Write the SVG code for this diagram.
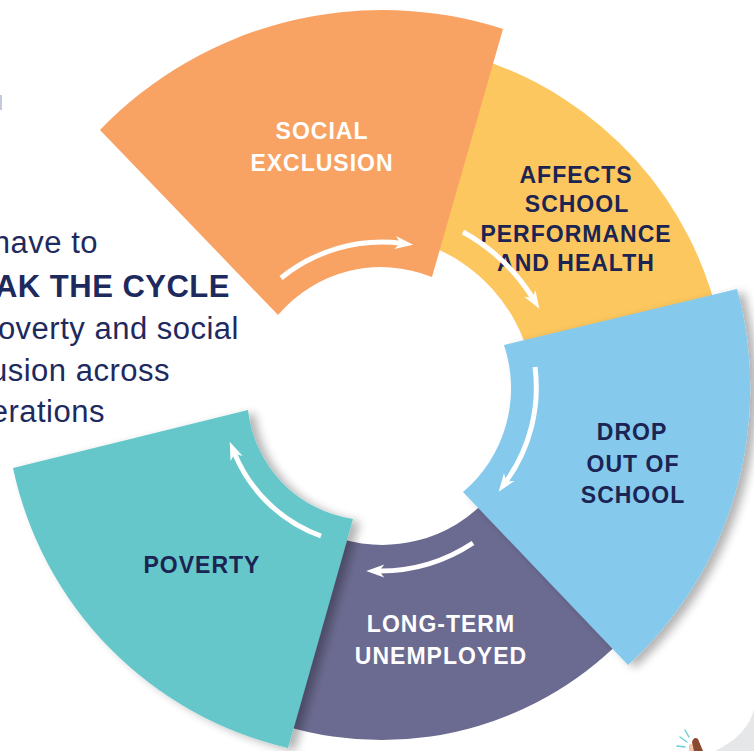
<svg xmlns="http://www.w3.org/2000/svg" width="754" height="751" viewBox="0 0 754 751">
<defs>
<style>
.lbl{font-family:"Liberation Sans",Arial,sans-serif;font-weight:bold;font-size:23px;letter-spacing:1px;text-anchor:middle}
.w{fill:#ffffff}
.d{fill:#1B2452}
.side{font-family:"Liberation Sans",Arial,sans-serif;font-size:31px;letter-spacing:0.5px;fill:#1E2A5E;text-anchor:end}
.arr{fill:none;stroke:#ffffff;stroke-width:5;marker-end:url(#ah)}
</style>
<marker id="ah" markerUnits="userSpaceOnUse" orient="auto" markerWidth="40" markerHeight="40" refX="0" refY="0" viewBox="-20 -20 40 40" overflow="visible">
<path d="M12,0 L-6,-6.5 L-1,0 L-6,6.5 Z" fill="#ffffff"/>
</marker>
<filter id="sh" x="-20%" y="-20%" width="140%" height="140%">
<feGaussianBlur in="SourceAlpha" stdDeviation="5"/>
<feOffset dx="7" dy="3" result="o"/>
<feComponentTransfer><feFuncA type="linear" slope="0.3"/></feComponentTransfer>
<feMerge><feMergeNode/><feMergeNode in="SourceGraphic"/></feMerge>
</filter>
</defs>
<rect width="754" height="751" fill="#ffffff"/>
<rect x="0" y="95" width="2" height="15" fill="#c5c9de"/>
<g id="intro-text">
<text class="side" x="98" y="253">have to</text>
<text class="side" x="230" y="297" style="font-weight:bold">AK THE CYCLE</text>
<text class="side" x="239" y="339">overty and social</text>
<text class="side" x="170" y="381">usion across</text>
<text class="side" x="105" y="422">erations</text>
</g>
<g id="node-affects-school">
<path d="M480,59 A358,358 0 0 1 720,325 L530,360 A165,165 0 0 0 425,244 Z" fill="#FCC75E"/>
</g>
<g id="node-long-term-unemployed">
<path d="M285,726 A338,338 0 0 0 640,620 L490,496 A143,143 0 0 1 330,535 Z" fill="#6B6A90"/>
</g>
<g id="node-social-exclusion">
<path d="M100,130 A392,392 0 0 1 503,29 L432,277 A135,135 0 0 0 278,315 Z" fill="#F8A263"/>
</g>
<g id="node-drop-out">
<path d="M504,345 L737,289 A375,375 0 0 1 628,665 L463,492 A136,136 0 0 0 504,345 Z" fill="#85C9EC" filter="url(#sh)"/>
</g>
<g id="node-poverty">
<path d="M13,468 L248,410 A124,124 0 0 0 353,519 L288,748 A365,365 0 0 1 13,468 Z" fill="#66C7CA" filter="url(#sh)"/>
</g>
<g id="labels">
<text class="lbl w" x="322" y="139">SOCIAL</text>
<text class="lbl w" x="322" y="171">EXCLUSION</text>
<text class="lbl d" x="576" y="183">AFFECTS</text>
<text class="lbl d" x="577" y="212">SCHOOL</text>
<text class="lbl d" x="576" y="242">PERFORMANCE</text>
<text class="lbl d" x="576" y="271">AND HEALTH</text>
<text class="lbl d" x="632" y="440">DROP</text>
<text class="lbl d" x="633" y="472">OUT OF</text>
<text class="lbl d" x="633" y="503">SCHOOL</text>
<text class="lbl w" x="441" y="632">LONG-TERM</text>
<text class="lbl w" x="441" y="664">UNEMPLOYED</text>
<text class="lbl d" x="202" y="573">POVERTY</text>
</g>
<g id="connectors">
<path class="arr" d="M281,278 A160,160 0 0 1 401.2,243.2"/>
<path class="arr" d="M463,232 A192,192 0 0 1 533,298.5"/>
<path class="arr" d="M535,367 A161,161 0 0 1 505.7,482"/>
<path class="arr" d="M473,543 A169,169 0 0 1 378.2,571"/>
<path class="arr" d="M321,536 A148,148 0 0 1 234.3,452.9"/>
</g>
<g id="corner-illustration">
<path d="M754,709 Q748,735 715,751 L754,751 Z" fill="#e6e7e8"/>
<path d="M689,745 L693,743 L696,751 L689,751 Z" fill="#f3c4b0"/>
<path d="M692,742 Q694,736 698,739 L703,751 L694,751 Z" fill="#8a4a30"/>
<g stroke="#6dcfd4" stroke-width="1.5" stroke-linecap="round">
<line x1="685" y1="730" x2="689" y2="737"/>
<line x1="680" y1="737" x2="687" y2="742"/>
<line x1="677" y1="746" x2="685" y2="747"/>
</g>
</g>
</svg>
